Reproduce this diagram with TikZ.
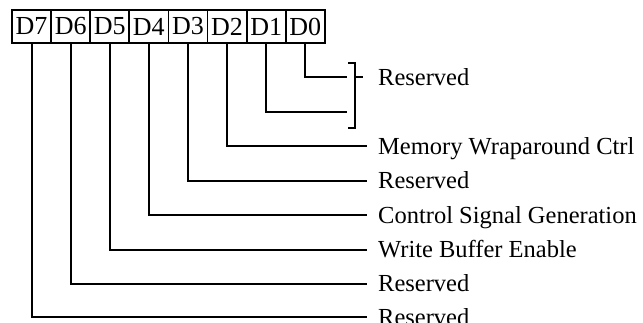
\documentclass[tikz,border=0pt]{standalone}
\usepackage{fontspec}
\setmainfont{Liberation Serif}
\tikzset{
  bitbox/.style={draw, line width=1.8pt, minimum width=39.1pt, minimum height=33pt, inner sep=0pt, font=\fontsize{26}{26}\selectfont},
  wire/.style={line width=2pt},
  lbl/.style={anchor=base west, inner sep=0pt, font=\fontsize{24.5}{24.5}\selectfont}
}
\begin{document}
\begin{tikzpicture}[x=1pt,y=-1pt]
\useasboundingbox (0,0) rectangle (643,322);
% boxes
\foreach \i/\n in {0/D7,1/D6,2/D5,3/D4,4/D3,5/D2,6/D1,7/D0}{
  \node[bitbox] (\n) at ({12+39.1*\i+19.55},26.5) {\n};
}
% line ends
\coordinate (e0) at (347,77);
\coordinate (e1) at (347,111.5);
\coordinate (e2) at (367,146);
\coordinate (e3) at (367,180.5);
\coordinate (e4) at (367,215);
\coordinate (e5) at (367,249.5);
\coordinate (e6) at (367,283.5);
\coordinate (e7) at (367,317);
\draw[wire] (D0.south) |- (e0);
\draw[wire] (D1.south) |- (e1);
\draw[wire] (D2.south) |- (e2);
\draw[wire] (D3.south) |- (e3);
\draw[wire] (D4.south) |- (e4);
\draw[wire] (D5.south) |- (e5);
\draw[wire] (D6.south) |- (e6);
\draw[wire] (D7.south) |- (e7);
% bracket
\coordinate (bt) at (348,63);
\coordinate (bb) at (348,128);
\coordinate (tk) at (363,77);
\draw[wire] (bt) -- (355,63) -- (355,128) -- (bb);
\draw[wire] (355,77) -- (tk);
% labels
\node[lbl] (l0) at (378,85) {Reserved};
\node[lbl] (l2) at (378,154) {Memory Wraparound Ctrl};
\node[lbl] (l3) at (378,188.5) {Reserved};
\node[lbl] (l4) at (378,223) {Control Signal Generation};
\node[lbl] (l5) at (378,257.5) {Write Buffer Enable};
\node[lbl] (l6) at (378,291.5) {Reserved};
\node[lbl] (l7) at (378,325) {Reserved};
\end{tikzpicture}
\end{document}
